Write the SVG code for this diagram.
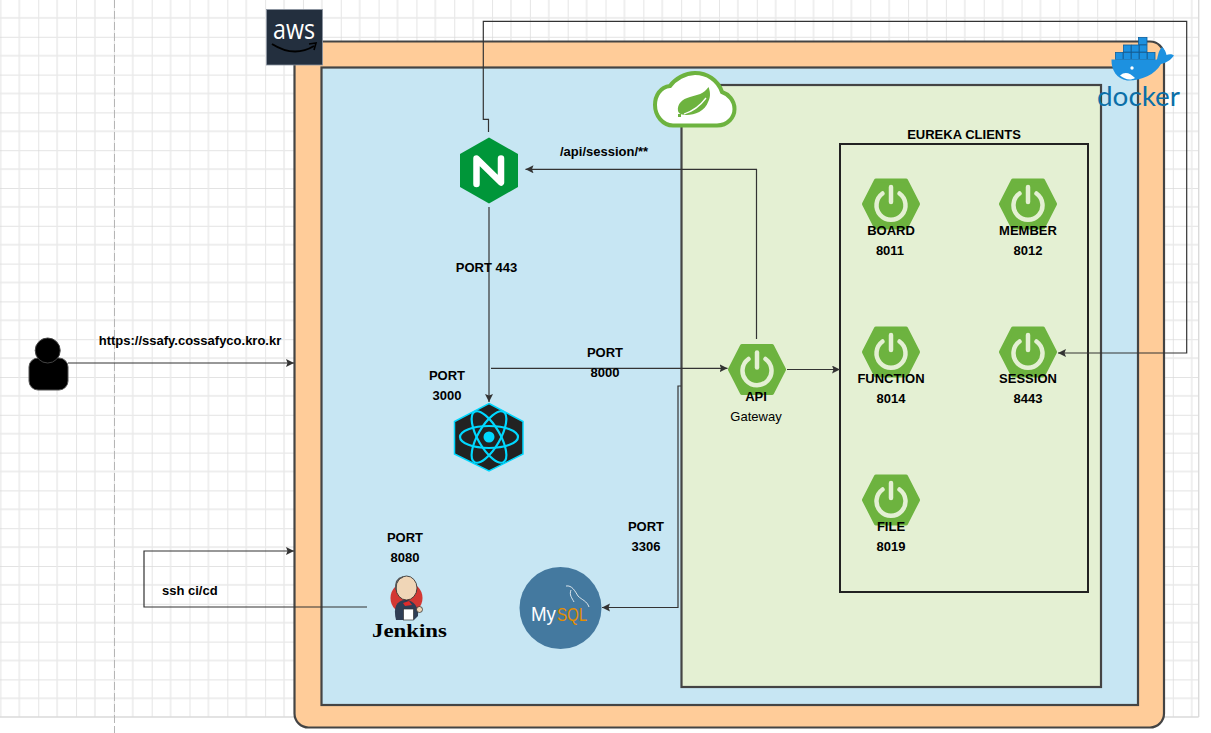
<svg xmlns="http://www.w3.org/2000/svg" width="1211" height="733" viewBox="0 0 1211 733">
<style>
text{font-family:"Liberation Sans",Arial,sans-serif;font-size:13px;font-weight:700;fill:#000;text-anchor:middle}
.box{stroke:#444;stroke-width:2.2}
.wire{fill:none;stroke:#333;stroke-width:1.2}
.arr{marker-end:url(#arrow)}
.spring-hex{fill:#6DB33F;stroke:#6DB33F;stroke-width:4;stroke-linejoin:round}
.power{fill:none;stroke:#E4F0D3;stroke-width:4.5;stroke-linecap:round}
</style>
<defs>
<pattern id="grid" patternUnits="userSpaceOnUse" x="0.4" y="-1" width="37.82" height="37.8">
<path d="M0 0V37.8M0 0H37.82" fill="none" stroke="#dadada" stroke-width="1.4"/>
<path d="M18.91 0V37.8M0 18.9H37.82" fill="none" stroke="#e9e9e9" stroke-width="1.4"/>
</pattern>
<marker id="arrow" markerUnits="userSpaceOnUse" markerWidth="10" markerHeight="9" refX="8" refY="4" orient="auto">
<path d="M0 0L8 4L0 8L1.5 4Z" fill="#333"/>
</marker>
<g id="spring-icon">
<path class="spring-hex" d="M-15 -23.500H15L27 0L15 23.500H-15L-27 0Z"/>
<path class="power" d="M-8.500 -10.500A14.500 14.500 0 1 0 8.500 -10.500"/>
<path class="power" d="M0 -17V-2"/>
</g>
</defs>
<rect width="1211" height="733" fill="#fff"/>
<rect x="0" y="0" width="1199" height="717" fill="url(#grid)"/>
<path d="M1198.700 0V717M0 717H1198.700" fill="none" stroke="#dadada" stroke-width="1.400"/>
<path d="M114.500 0V733" stroke="#b5b5b5" stroke-width="1" stroke-dasharray="8 3" fill="none"/>

<g id="aws-boundary"><rect class="box" x="294.500" y="41.500" width="869.500" height="686" rx="14" fill="#FFCC99"/></g>
<g id="vpc-boundary"><rect class="box" x="321.500" y="67.500" width="816.500" height="637.500" fill="#C7E6F3"/></g>
<g id="spring-boundary"><rect class="box" x="681.500" y="85" width="419.500" height="602" fill="#E4F0D3"/></g>
<g id="clients-boundary"><rect x="840" y="144" width="248" height="448" fill="#E4F0D3" stroke="#222" stroke-width="2"/><text x="964" y="139">EUREKA CLIENTS</text></g>

<g id="connectors">
<path class="wire arr" d="M488.500 132V119.300H483.300V21.300H1186.700V353H1058"/>
<path class="wire arr" d="M756.500 339V169.300H525.500"/>
<path class="wire arr" d="M489 207V402"/>
<path class="wire arr" d="M491 368.300H727.500"/>
<path class="wire arr" d="M787 369.500H840"/>
<path class="wire arr" d="M681 386H678V607.500H602"/>
<path class="wire arr" d="M367 607H144V551H294"/>
<path class="wire arr" d="M68 363H294"/>
</g>

<g id="user">
<rect x="29" y="358" width="39" height="32" rx="9" fill="#000" stroke="#555"/>
<circle cx="47.700" cy="350.500" r="12.500" fill="#000" stroke="#444"/>
<text x="190" y="345">https://ssafy.cossafyco.kro.kr</text>
</g>

<g id="aws-logo">
<rect x="266.500" y="9.500" width="56" height="55.500" fill="#232F3E" stroke="#8a93a0" stroke-width="0.800"/>
<text x="294" y="39" style="font-family:'Open Sans',sans-serif;font-size:27px;font-weight:400;fill:#fff" textLength="42" lengthAdjust="spacingAndGlyphs">aws</text>
<path d="M272 44Q294 58 314 46" fill="none" stroke="#000" stroke-width="2"/>
<path d="M309 44L316 43L314 50" fill="none" stroke="#000" stroke-width="1.600"/>
</g>

<g id="nginx">
<path d="M489 137.500L518 154V187L489 203.500L460 187V154Z" fill="#009639"/>
<path d="M476.500 184V158.500L501 182.500V158.500" fill="none" stroke="#fff" stroke-width="6.500" stroke-linejoin="round" stroke-linecap="round"/>
<text x="486.500" y="272">PORT 443</text>
<text x="605" y="357">PORT</text><text x="605" y="377">8000</text>
<text x="560" y="156" style="text-anchor:start">/api/session/**</text>
</g>

<g id="react">
<path d="M489 403.500L523 421.500V454L489 471L454.500 454V421.500Z" fill="#222" stroke="#00D8FF" stroke-width="1.500"/>
<g fill="none" stroke="#00D8FF" stroke-width="2.200">
<ellipse cx="489" cy="437" rx="29" ry="11"/>
<ellipse cx="489" cy="437" rx="29" ry="11" transform="rotate(60 489 437)"/>
<ellipse cx="489" cy="437" rx="29" ry="11" transform="rotate(120 489 437)"/>
</g>
<circle cx="489" cy="437" r="5.500" fill="#00D8FF"/>
<text x="447" y="380">PORT</text><text x="447" y="400">3000</text>
</g>

<g id="jenkins">
<circle cx="406.500" cy="598" r="16" fill="#D33833"/>
<path d="M396 620C393 608 396 600 406 600C414 600 419 608 418 616L414 620Z" fill="#2F3E55"/>
<ellipse cx="406.500" cy="588" rx="10.500" ry="12" fill="#F0D6B7" stroke="#222" stroke-width="0.800"/>
<path d="M396 590C395 582 398 578 403 577" fill="none" stroke="#555" stroke-width="1.500"/>
<path d="M403 603L409 601L412 605L405 606Z" fill="#E02B2B"/>
<rect x="403.500" y="609" width="10" height="11" fill="#fff" stroke="#333" stroke-width="0.700"/>
<circle cx="419.500" cy="609.500" r="3" fill="#F0D6B7" stroke="#222" stroke-width="0.700"/>
<text x="409.500" y="637" style="font-family:'Liberation Serif',serif;font-size:19px" textLength="75" lengthAdjust="spacingAndGlyphs">Jenkins</text>
<text x="405" y="542">PORT</text><text x="405" y="562">8080</text>
<text x="162" y="595" style="text-anchor:start">ssh ci/cd</text>
</g>

<g id="mysql">
<circle cx="560.500" cy="608" r="41" fill="#44799F"/>
<text x="556" y="621" style="font-size:20px;font-weight:400;fill:#fff;text-anchor:end" textLength="25" lengthAdjust="spacingAndGlyphs">My</text>
<text x="557" y="621" style="font-size:18px;font-weight:400;fill:#E48E00;text-anchor:start" textLength="30" lengthAdjust="spacingAndGlyphs">SQL</text>
<path d="M566 586C572 585 575 591 578 596C582 600 587 601 589 607M571 590C569 595 572 598 574 602" fill="none" stroke="#fff" stroke-width="0.800"/>
<text x="646" y="531">PORT</text><text x="646" y="551">3306</text>
</g>

<g id="spring-logo">
<path d="M673 125.500H717C728 125.500 734.500 117 734.500 109C734.500 100 728 94 722 92C718 80 707 73 695 73C685 73 675 79 670 86C660 87 655 96 655 105C655 116 663 125.500 673 125.500Z" fill="#fff" stroke="#6DB33F" stroke-width="4"/>
<path d="M708.500 87C704 94 697 95 690 97C682 99 677 104 678 111C678.500 113 680 114 682 114.500C690 116 704 114 708.500 101C711 96 710 91 708.500 87Z" fill="#6DB33F"/>
<path d="M684 114Q697 110 706 98" fill="none" stroke="#fff" stroke-width="1.300"/>
<rect x="678" y="114" width="3" height="3" fill="#6DB33F"/>
</g>

<g id="api-gateway">
<use href="#spring-icon" x="757" y="369.500"/>
<text x="756" y="401">API</text><text x="756" y="421" style="font-weight:400">Gateway</text>
</g>
<g id="board"><use href="#spring-icon" x="891" y="204"/><text x="891" y="235">BOARD</text><text x="890" y="255">8011</text></g>
<g id="member"><use href="#spring-icon" x="1028" y="204"/><text x="1028" y="235">MEMBER</text><text x="1028" y="255">8012</text></g>
<g id="function"><use href="#spring-icon" x="891" y="352"/><text x="891" y="383">FUNCTION</text><text x="891" y="403">8014</text></g>
<g id="session"><use href="#spring-icon" x="1028" y="352"/><text x="1028" y="383">SESSION</text><text x="1028" y="403">8443</text></g>
<g id="file"><use href="#spring-icon" x="891" y="500"/><text x="891" y="531">FILE</text><text x="891" y="551">8019</text></g>

<g id="docker">
<g fill="#1D91E0" stroke="#0b5f9e" stroke-width="0.800">
<rect x="1115.500" y="52.500" width="7.500" height="7"/><rect x="1123.500" y="52.500" width="7.500" height="7"/><rect x="1131.500" y="52.500" width="7.500" height="7"/><rect x="1139.500" y="52.500" width="7.500" height="7"/><rect x="1147.500" y="52.500" width="7.500" height="7"/>
<rect x="1123.500" y="45" width="7.500" height="7"/><rect x="1131.500" y="45" width="7.500" height="7"/><rect x="1139.500" y="45" width="7.500" height="7"/>
<rect x="1138.500" y="37.500" width="8.500" height="7"/>
</g>
<path d="M1111.500 59.500H1157C1158 54 1159 50 1162 47C1165 50 1166 52 1166.500 55C1169 54 1172 54 1174 55.500C1171 60 1166 63 1161 64C1155 75 1140 81 1127 80.500C1117 79 1111 70 1111.500 59.500Z" fill="#1D91E0"/>
<path d="M1120 75.500C1125 71 1130 73 1135 78C1130 81 1124 79 1120 75.500Z" fill="#fff"/>
<circle cx="1132" cy="68" r="1.700" fill="#fff"/>
<text x="1138.500" y="106" style="font-family:'Lato',sans-serif;font-size:27px;font-weight:400;fill:#0B6FA8" textLength="83" lengthAdjust="spacingAndGlyphs">docker</text>
</g>
</svg>
